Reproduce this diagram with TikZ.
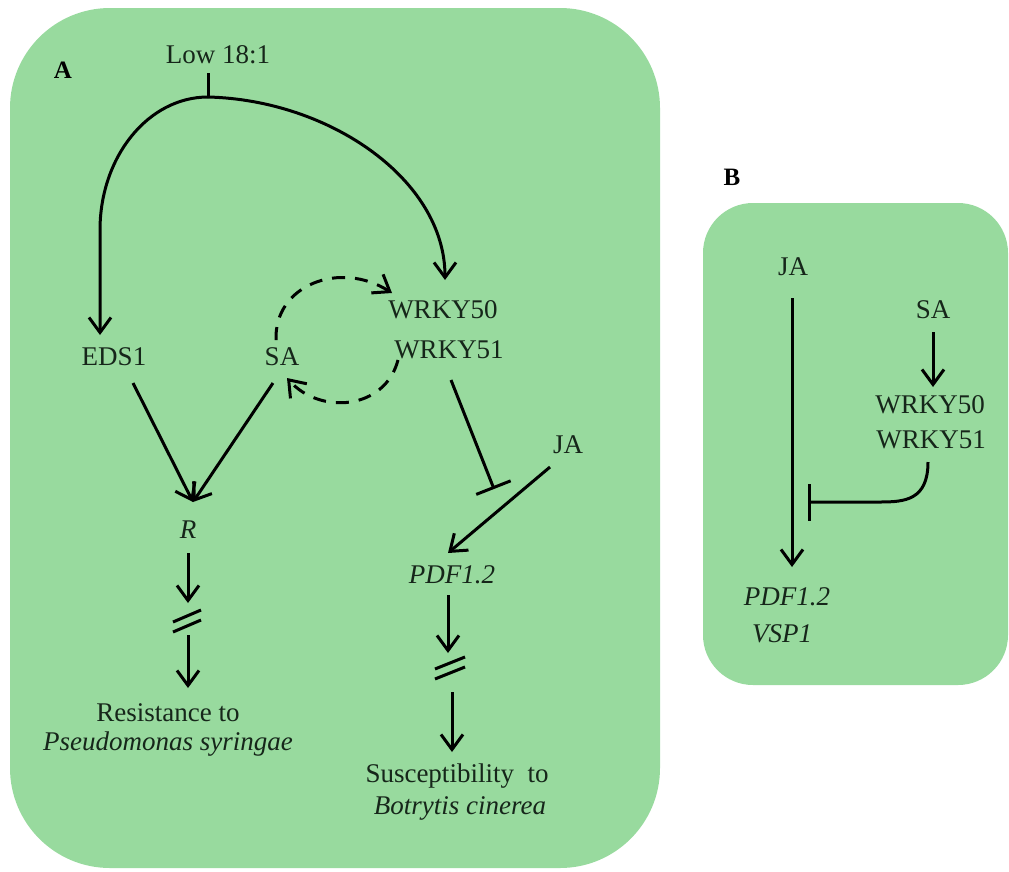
\documentclass[tikz,border=0pt]{standalone}
\usepackage{fontspec}
\setmainfont{Liberation Serif}
\usetikzlibrary{arrows.meta}
\definecolor{panel}{RGB}{152,218,158}
\definecolor{ink}{RGB}{22,38,26}
\begin{document}
\begin{tikzpicture}[x=1pt,y=-1pt,line width=3pt,
  lbl/.style={font=\fontsize{27}{32}\selectfont, text=ink, inner sep=0pt, anchor=base},
  itl/.style={font=\fontsize{27}{32}\selectfont\itshape, text=ink, inner sep=0pt, anchor=base},
  bld/.style={font=\fontsize{25}{30}\selectfont\bfseries, text=black, inner sep=0pt, anchor=base},
  arr/.style={-{Straight Barb[length=15pt,width=22pt]}},
  inh/.style={-{Bar[width=37pt]}},
  dsh/.style={dash pattern=on 13pt off 10pt},
  brk/.style={line width=3pt}]
\useasboundingbox (0,0) rectangle (1009,871);
% panels
\fill[panel, rounded corners=100pt] (10,8) rectangle (660,868);
\fill[panel, rounded corners=50pt] (703,203) rectangle (1008,685);

% ---------- panel A ----------
\node[bld] (la) at (63,78) {A};
\node[lbl] (low) at (218,63) {Low 18:1};
\node[lbl] (eds) at (114,365) {EDS1};
\node[lbl] (sa) at (282,365) {SA};
\node[lbl] (w50) at (443,318) {WRKY50};
\node[lbl] (w51) at (449,358) {WRKY51};
\node[lbl] (ja) at (568,453) {JA};
\node[itl] (r) at (188,538) {R};
\node[itl] (pdf) at (452,583) {PDF1.2};
\node[lbl] (res) at (168,721) {Resistance to};
\node[itl] (pse) at (168,750) {Pseudomonas syringae};
\node[lbl] (sus) at (457,782) {Susceptibility\ \ to};
\node[itl] (bot) at (460,814) {Botrytis cinerea};

\coordinate (j) at (208,97);
\coordinate (ticktop) at (208,73);
\coordinate (edsin) at (100,335);
\coordinate (w50in) at (445,280);
\coordinate (rin) at (193,502);
\coordinate (pdfin) at (448,553);

\draw (j) -- (ticktop);
\draw[arr] (j) .. controls (148,97) and (100,157) .. (100,230) -- (edsin);
\draw[arr] (j) .. controls (330,100) and (445,180) .. (w50in);

% dashed loop SA <-> WRKY
\draw[arr,dsh] (276,340) .. controls (274,285) and (340,260) .. (392,293);
\draw[arr,dsh] (398,360) .. controls (385,410) and (320,415) .. (287,378);

\draw[arr] (133,383) -- (rin);
\draw[arr] (273,383) -- (rin);
\draw[arr] (188,553) -- (188,603);
\coordinate (bl) at (187,621);
\draw[brk] ([shift={(-14,1)}]bl) -- ([shift={(14,-11)}]bl);
\draw[brk] ([shift={(-14,11)}]bl) -- ([shift={(14,-1)}]bl);
\draw[arr] (188,635) -- (188,688);

\draw[inh] (451,380) -- (494,489);
\draw[arr] (550,467) -- (pdfin);
\draw[arr] (448,595) -- (448,653);
\coordinate (br) at (450,668);
\draw[brk] ([shift={(-15,1)}]br) -- ([shift={(15,-11)}]br);
\draw[brk] ([shift={(-15,11)}]br) -- ([shift={(15,-1)}]br);
\draw[arr] (452,692) -- (452,752);

% ---------- panel B ----------
\node[bld] (lb) at (732,185) {B};
\node[lbl] (jab) at (793,275) {JA};
\node[lbl] (sab) at (933,318) {SA};
\node[lbl] (w50b) at (930,413) {WRKY50};
\node[lbl] (w51b) at (931,448) {WRKY51};
\node[itl] (pdfb) at (787,605) {PDF1.2};
\node[itl] (vspb) at (782,642) {VSP1};

\draw[arr] (792,298) -- (792,567);
\draw[arr] (933,332) -- (933,387);
\draw[inh] (928,462) .. controls (928,500) and (905,502) .. (880,502) -- (808,502);
\end{tikzpicture}
\end{document}
